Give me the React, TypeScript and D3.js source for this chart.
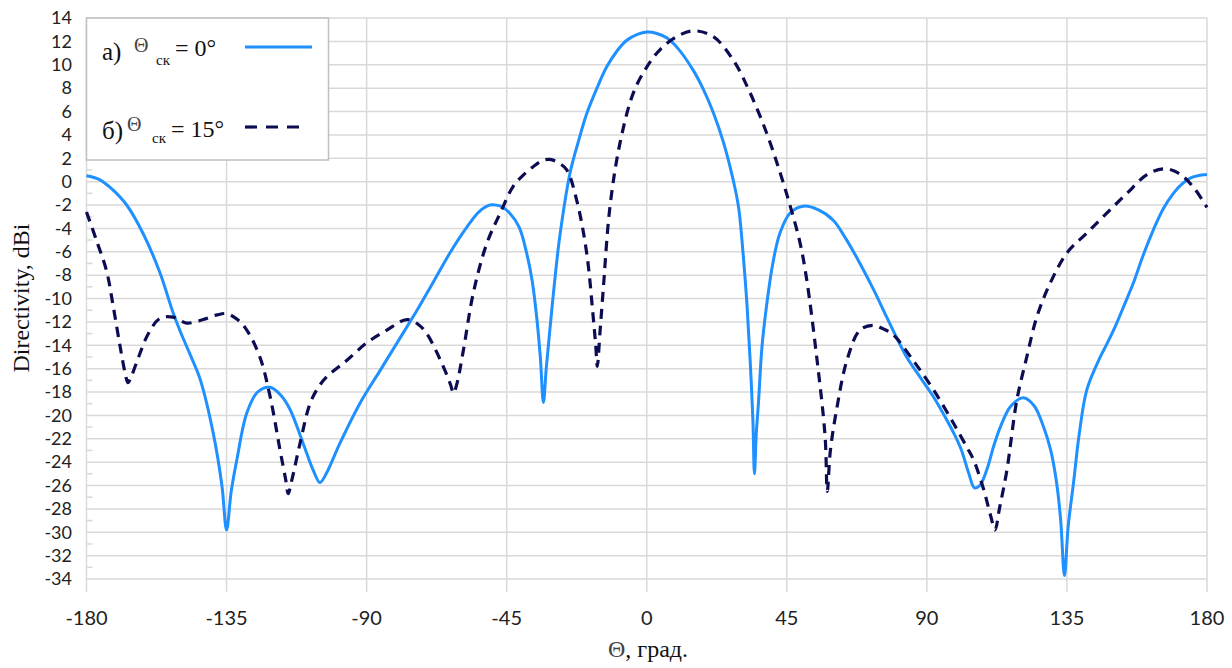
import React from 'react';
import * as d3 from 'd3';

const width = 1232;
const height = 668;

// x: Θ in degrees, y: directivity in dBi
const xTicks = [-180, -135, -90, -45, 0, 45, 90, 135, 180];
const yTicks = d3.range(-34, 16, 2);
const yMinor = d3.range(-33, 14, 2);

// а) Θск = 0°
const thetaA = [
  -180, -176, -172.4, -167.1, -161.7, -156.4, -152.2, -149.9, -146.7, -143.5, -139.3, -136.5, -135,
  -133.5, -131.7, -128.5, -125, -121, -117.5, -114.6, -110.4, -107, -105, -103, -98.6, -92,
  -86, -80, -74, -68.6, -63, -57.8, -54, -50.4, -47, -44, -41, -38.6, -36.8, -35.4, -34.2,
  -33.2, -32.3, -31.1, -29.5, -27.9, -24.6, -22, -19.3, -16, -12.9, -9.5, -6.4, -3, 0,
  3, 6.4, 10, 15, 18, 21.4, 24.6, 27.8, 29.5, 31, 32.2, 33.2, 34.1, 34.6, 35.2, 35.9, 37,
  38.6, 40.5, 42.8, 46, 50.3, 55, 59.9, 64, 68.5, 73, 77.1, 80, 83.5, 88, 92.1, 96, 98.6,
  101, 103.5, 105.3, 107, 109.2, 111.5, 113.6, 117, 121, 124.5, 127.5, 129.8, 131.7, 133,
  134.2, 135.4, 137.1, 139, 141.4, 145.7, 148, 151, 153.5, 156.3, 159.5, 162.8, 166, 169.2,
  172, 174.6, 177, 180,
];
const dbA = [
  0.5, 0.2, -0.5, -2, -4.5, -7.8, -11.2, -12.8, -14.8, -16.9, -21.5, -26, -29.8,
  -26.5, -23.8, -19.8, -18, -17.6, -18.3, -19.5, -22.4, -24.8, -25.75, -25, -22.4, -18.9,
  -16.3, -13.7, -11.1, -8.6, -6, -3.9, -2.6, -2, -2.1, -2.7, -3.9, -6.1, -8.5, -11.5, -15,
  -18.9, -16, -12.6, -8.3, -4.6, 0.8, 3.4, 5.8, 8, 9.8, 11.2, 12.1, 12.6, 12.8,
  12.7, 12.3, 11.4, 9.5, 8, 5.9, 3.4, 0.1, -2.2, -6.3, -10.5, -15.2, -20.4, -25, -21.5, -18.9, -14.2,
  -10.4, -7, -4.4, -2.7, -2.1, -2.4, -3.3, -4.9, -7, -9.3, -11.6, -13.2, -15, -16.8, -18.4, -20.2, -21.5,
  -22.9, -25, -26.2, -26, -24.7, -22.6, -21, -19.2, -18.5, -19.2, -21, -23, -25.8, -29,
  -33.7, -29.5, -25.8, -21.5, -17.8, -15, -13.8, -12.1, -10.5, -8.7, -6.3, -4.1, -2.3, -1,
  -0.2, 0.3, 0.5, 0.6,
];

// б) Θск = 15°
const thetaB = [
  -180, -176.7, -173.5, -171.4, -169.2, -167.5, -166.7, -165.5, -163.4, -160.1, -156.4, -152.2,
  -147.8, -142.5, -138, -135, -131.5, -128.5, -124.3, -121, -117.8, -116, -115.2, -114, -111.4,
  -108.2, -105.5, -102.8, -96.4, -90, -83.5, -77.1, -73.5, -70.7, -65.4, -63, -62.1, -61, -58.9,
  -55.7, -51.4, -47.1, -42.9, -39.5, -36.4, -33.5, -31.1, -28.3, -25.7, -22.5, -19.3, -17.2,
  -16.4, -15.9, -15, -14, -11.8, -8.6, -4.3, 0, 4.3, 9.6, 15, 21.4, 27.8, 33.2, 38.6, 42.8,
  46.1, 49.3, 51.4, 54.6, 57.3, 58, 59, 61, 64.3, 68.5, 72.8, 76, 79.2, 85.6, 92.1, 98.6, 102.8,
  105, 108.2, 110.5, 111.9, 113.3, 115.7, 118.9, 122.1, 125.3, 129.6, 135, 141.4, 147.8, 154.3,
  160.7, 166, 169.5, 172.5, 176, 180,
];
const dbB = [
  -2.6, -5.1, -7.7, -10.7, -14.1, -16.5, -17.2, -16.6, -15.1, -13, -11.7, -11.6,
  -12.1, -11.8, -11.4, -11.3, -11.8, -12.7, -15, -18.4, -23, -25.5, -26.7, -25.5, -22.4,
  -19, -17.6, -16.7, -15.3, -13.8, -12.7, -11.8, -12.2, -13, -15.8, -17.4, -18.1, -17.3, -14.4,
  -9.5, -5.3, -2.7, -0.4, 0.6, 1.3, 1.8, 1.9, 1.6, 1.0, -1.6, -6.1, -11.6,
  -14, -15.8, -12.8, -9.3, -2.1, 3.3, 7.6, 9.8, 11.3, 12.4, 12.9, 12.4, 10.4, 7.6, 4.1, 0.8,
  -2.1, -5.3, -8.4, -15, -21.8, -26.5, -23, -19.5, -15.3, -12.7, -12.3, -12.6, -13.1, -15.3, -17.8, -20.7, -22.7,
  -23.8, -26.3, -28.6, -29.8, -28, -24.7, -18.7, -15, -11.6, -8.7, -6.1, -4.4, -2.7, -1,
  0.6, 1.1, 0.9, 0.4, -0.6, -2.2,
];

const seriesA = thetaA.map((t, i) => [t, dbA[i]] as [number, number]);
const seriesB = thetaB.map((t, i) => [t, dbB[i]] as [number, number]);

const App = () => {
  const xScale = d3.scaleLinear().domain([-180, 180]).range([86.5, 1207]);
  const yScale = d3.scaleLinear().domain([-34, 14]).range([579, 18]);

  const line = d3
    .line<[number, number]>()
    .x(d => xScale(d[0]))
    .y(d => yScale(d[1]))
    .curve(d3.curveCatmullRom.alpha(0.5));

  const gridColor = '#d9d9d9';
  const serif = '"Liberation Serif", "Times New Roman", serif';
  const sans = 'Lato, "Open Sans", sans-serif';

  return (
    <svg width={width} height={height} style={{ display: 'block', position: 'absolute', left: 0, top: 0 }}>
      <rect width={width} height={height} fill="#fff" />
      {yTicks.map(v => (
        <line key={'h' + v} x1={xScale(-180)} x2={xScale(180)} y1={yScale(v)} y2={yScale(v)}
          stroke={gridColor} strokeWidth={1.5} />
      ))}
      {yMinor.map(v => (
        <line key={'m' + v} x1={xScale(-180)} x2={xScale(-180) + 6} y1={yScale(v)} y2={yScale(v)}
          stroke={gridColor} strokeWidth={1.5} />
      ))}
      {xTicks.map(v => (
        <line key={'v' + v} x1={xScale(v)} x2={xScale(v)} y1={yScale(14)} y2={yScale(-34) + 13}
          stroke={gridColor} strokeWidth={1.5} />
      ))}
      {yTicks.map(v => (
        <text key={'yl' + v} x={72} y={yScale(v)} dy="0.35em" textAnchor="end"
          fontFamily={sans} fontSize={18} fill="#222">{v}</text>
      ))}
      {xTicks.map(v => (
        <text key={'xl' + v} x={xScale(v)} y={625} textAnchor="middle"
          fontFamily={sans} fontSize={20} fill="#222">{v}</text>
      ))}

      <path d={line(seriesA) || ''} fill="none" stroke="#1e90ff" strokeWidth={3} />
      <path d={line(seriesB) || ''} fill="none" stroke="#0c0c52" strokeWidth={3.2}
        strokeDasharray="10,7" />

      {/* legend */}
      <rect x={86.5} y={18} width={242} height={142} fill="#fff" stroke="#bfbfbf" strokeWidth={1.5} />
      <text fontFamily={serif} fill="#111">
        <tspan x={102} y={60} fontSize={25}>а)</tspan>
        <tspan x={134} y={52} fontSize={20} fill="#444">Θ</tspan>
        <tspan x={156} y={65} fontSize={15}>ск</tspan>
        <tspan x={175} y={56} fontSize={24}>= 0°</tspan>
      </text>
      <line x1={245} x2={312} y1={47} y2={47} stroke="#1e90ff" strokeWidth={3} />
      <text fontFamily={serif} fill="#111">
        <tspan x={102} y={139} fontSize={25}>б)</tspan>
        <tspan x={127} y={131} fontSize={20} fill="#444">Θ</tspan>
        <tspan x={152} y={143} fontSize={15}>ск</tspan>
        <tspan x={171} y={137} fontSize={24}>= 15°</tspan>
      </text>
      <line x1={245} x2={308} y1={127} y2={127} stroke="#0c0c52" strokeWidth={3.2} strokeDasharray="12,9" />

      {/* axis titles */}
      <text transform="translate(29,298) rotate(-90)" textAnchor="middle" fontFamily={serif}
        fontSize={24} fill="#111">Directivity, dBi</text>
      <text x={648} y={657} textAnchor="middle" fontFamily={serif} fontSize={24} fill="#111">
        <tspan fill="#444">Θ</tspan>,<tspan> град.</tspan>
      </text>
    </svg>
  );
};

export default App;
